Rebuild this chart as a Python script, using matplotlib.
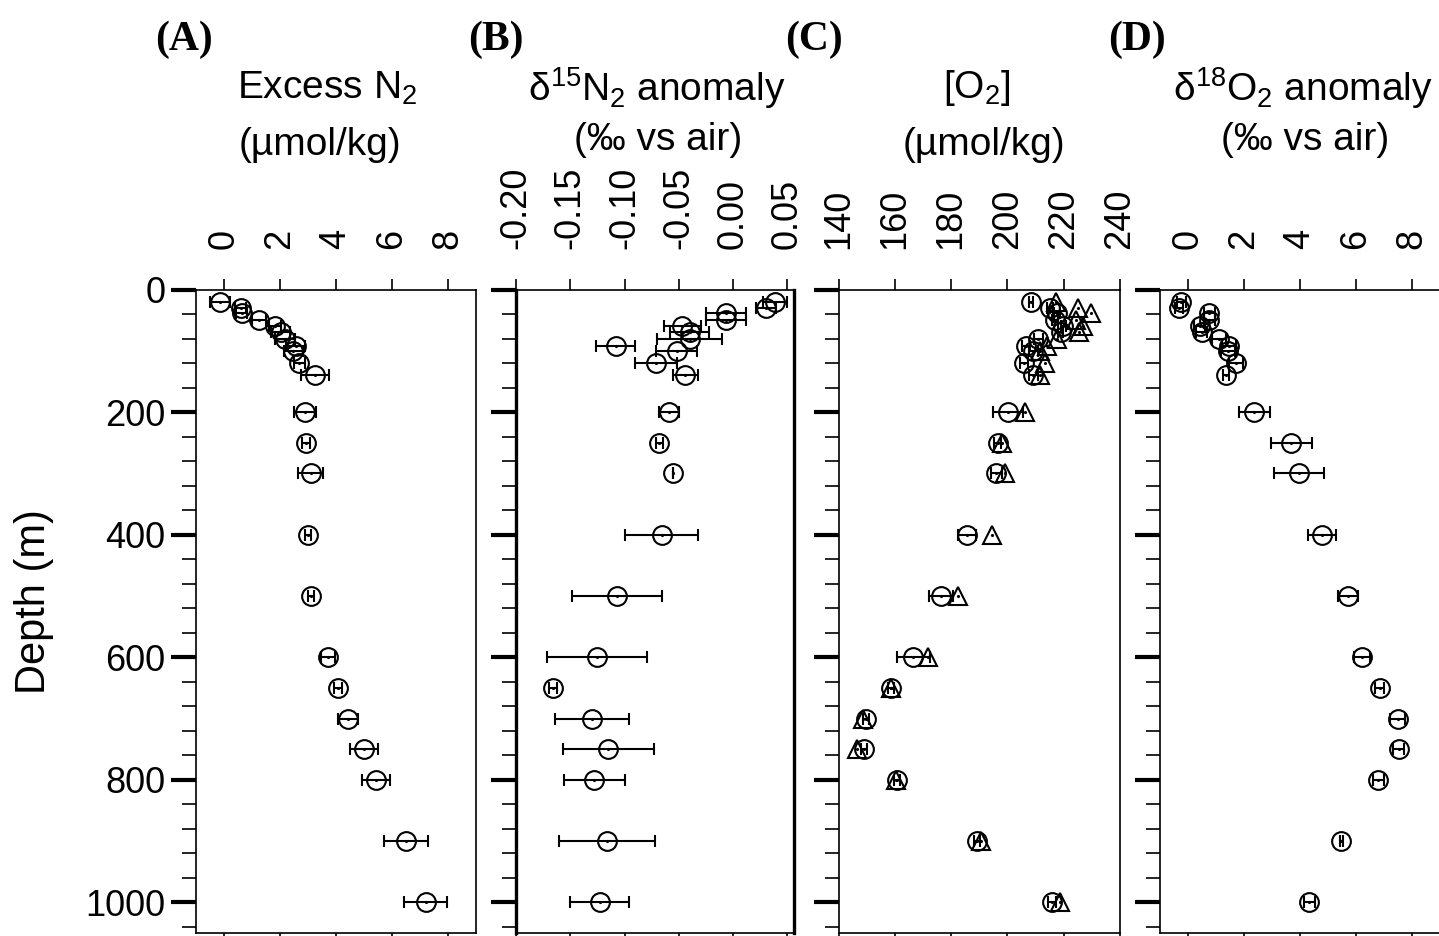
import numpy as np
import matplotlib.pyplot as plt
from matplotlib.ticker import MultipleLocator, FormatStrFormatter

plt.rcParams['font.family'] = ['Liberation Sans', 'DejaVu Sans']
plt.rcParams['mathtext.fontset'] = 'custom'
plt.rcParams['mathtext.rm'] = 'Liberation Sans'
plt.rcParams['axes.unicode_minus'] = False

# sample depths (m)
depth = [21, 30, 38, 50, 60, 69, 80, 92, 101, 120, 140, 200, 250, 300,
         400, 500, 600, 650, 700, 750, 800, 900, 1000]

# (A) excess N2
excess_n2 = [-0.14, 0.6, 0.63, 1.26, 1.82, 2.02, 2.18, 2.57, 2.48, 2.69, 3.25, 2.89,
             2.93, 3.1, 3.0, 3.1, 3.7, 4.07, 4.43, 5.0, 5.43, 6.5, 7.2]
excess_n2_err = [0.36, 0.2, 0.2, 0.25, 0.2, 0.35, 0.35, 0.34, 0.35, 0.2, 0.5, 0.4,
                 0.15, 0.45, 0.1, 0.1, 0.25, 0.15, 0.35, 0.5, 0.5, 0.8, 0.77]

# (B) d15N2 anomaly
d15n = [0.0385, 0.030, -0.0066, -0.0066, -0.047, -0.040, -0.040, -0.108, -0.052, -0.071,
        -0.044, -0.059, -0.068, -0.055, -0.066, -0.107, -0.125, -0.166, -0.130, -0.115,
        -0.128, -0.116, -0.123]
d15n_err = [0.011, 0.009, 0.018, 0.018, 0.017, 0.018, 0.030, 0.018, 0.019, 0.019, 0.0115,
            0.009, 0.003, 0.0, 0.034, 0.041, 0.046, 0.004, 0.034, 0.042, 0.028, 0.044, 0.027]

# (C) [O2], two methods
o2_circle = [208.4, 215.1, 217.5, 216.8, 219.9, 218.9, 211, 206.6, 209.2, 205.9, 209.2,
             200.1, 196.5, 196.0, 185.6, 176.4, 166.5, 158.6, 149.6, 149.1, 160.8, 189.2, 215.8]
o2_circle_err = [0.8, 1, 1, 1, 1, 1, 1.5, 1.5, 1.5, 1.5, 1.5, 5.3, 1.2, 2.0, 3.2, 4.3,
                 5.9, 1, 1, 1, 1, 1, 1.5]
o2_triangle = [217.3, 225.2, 229.6, 224.3, 227, 225.6, 217.5, 214, 211.6, 213.4, 211.6,
               206.3, 198, 199.2, 194.6, 182.5, 171.9, 158.6, 148.5, 146.6, 160.3, 190.6, 218.7]

# (D) d18O2 anomaly
d18o = [-0.23, -0.32, 0.77, 0.77, 0.42, 0.5, 1.10, 1.46, 1.42, 1.72, 1.37, 2.37,
        3.70, 3.98, 4.80, 5.72, 6.21, 6.85, 7.50, 7.53, 6.80, 5.48, 4.34]
d18o_err = [0.15, 0.15, 0.2, 0.2, 0.2, 0.2, 0.25, 0.25, 0.25, 0.25, 0.1, 0.55,
            0.73, 0.89, 0.49, 0.35, 0.28, 0.15, 0.27, 0.2, 0.2, 0.05, 0.2]

fig = plt.figure(figsize=(14.39, 9.36), dpi=100)

W, H = 1439.0, 936.0
bottom = 3 / H
height = (933 - 289.5) / H
axA = fig.add_axes([196 / W, bottom, 280 / W, height])
axB = fig.add_axes([516 / W, bottom, 278 / W, height])
axC = fig.add_axes([838.7 / W, bottom, 281.3 / W, height])
axD = fig.add_axes([1159.8 / W, bottom, 280 / W, height])


def draw_points(ax, x, err, marker='o'):
    if err is not None:
        ax.errorbar(x, depth, xerr=err, fmt='none', ecolor='black',
                    elinewidth=1.5, capsize=4, capthick=1.5, zorder=2)
    ax.plot(x, depth, marker, linestyle='none', mfc='none', mec='black',
            ms=13.5, mew=1.5, zorder=3)
    ax.plot(x, depth, '.', linestyle='none', color='black', ms=2.5, zorder=4)


draw_points(axA, excess_n2, excess_n2_err)
draw_points(axB, d15n, d15n_err)
draw_points(axC, o2_circle, o2_circle_err)
draw_points(axC, o2_triangle, None, marker='^')
draw_points(axD, d18o, d18o_err)

axA.set_xlim(-1, 9)
axB.set_xlim(-0.2, 0.056)
axC.set_xlim(140, 240)
axD.set_xlim(-1, 9)
axA.xaxis.set_major_locator(MultipleLocator(2))
axD.xaxis.set_major_locator(MultipleLocator(2))
axB.set_xticks([-0.20, -0.15, -0.10, -0.05, 0.00, 0.05])
axB.xaxis.set_major_formatter(FormatStrFormatter('%.2f'))
axC.set_xticks([140, 160, 180, 200, 220, 240])

for ax in [axA, axB, axC, axD]:
    ax.set_ylim(1050, 0)
    ax.yaxis.set_major_locator(MultipleLocator(200))
    ax.yaxis.set_minor_locator(MultipleLocator(40))
    ax.tick_params(axis='x', which='both', top=True, bottom=True, labeltop=True,
                   labelbottom=False, labelrotation=90, direction='out',
                   length=8, width=1.2, labelsize=26, pad=21)
    ax.tick_params(axis='y', which='major', direction='out', length=18, width=3,
                   labelsize=26, pad=4)
    ax.tick_params(axis='y', which='minor', direction='out', length=10, width=1.2)
    for s in ax.spines.values():
        s.set_linewidth(1.2)
    if ax is not axA:
        ax.tick_params(axis='y', labelleft=False)

axB.spines['left'].set_linewidth(2.4)
axB.spines['right'].set_linewidth(2.4)

# headers
def fx(px):
    return px / W


def fy(py):
    return 1 - py / H


fig.text(fx(34), fy(602), 'Depth (m)', rotation=90, ha='center', va='center', fontsize=30)

for lab, x in [('(A)', 155), ('(B)', 468), ('(C)', 785), ('(D)', 1108)]:
    fig.text(fx(x), fy(40), lab, ha='left', va='center', fontsize=30,
             fontweight='bold', family='Liberation Serif')

fig.text(fx(327), fy(88), r'Excess N$_2$', ha='center', va='center', fontsize=28)
fig.text(fx(320), fy(145), '(µmol/kg)', ha='center', va='center', fontsize=28)
fig.text(fx(657), fy(88), r'δ$^{15}$N$_2$ anomaly', ha='center', va='center', fontsize=28)
fig.text(fx(658), fy(140), '(‰ vs air)', ha='center', va='center', fontsize=28)
fig.text(fx(977), fy(88), r'[O$_2$]', ha='center', va='center', fontsize=28)
fig.text(fx(984), fy(145), '(µmol/kg)', ha='center', va='center', fontsize=28)
fig.text(fx(1303), fy(88), r'δ$^{18}$O$_2$ anomaly', ha='center', va='center', fontsize=28)
fig.text(fx(1305), fy(140), '(‰ vs air)', ha='center', va='center', fontsize=28)

fig.savefig('out.png', dpi=100)
